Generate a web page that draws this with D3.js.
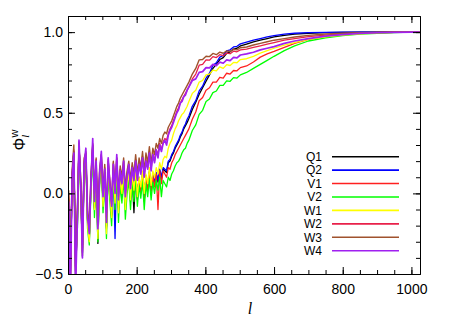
<!DOCTYPE html>
<html>
<head>
<meta charset="utf-8">
<script src="https://cdn.jsdelivr.net/npm/d3@7"></script>
<style>
  body { margin: 0; background: #fff; }
  svg { display: block; font-family: "Liberation Sans", Arial, sans-serif; }
</style>
</head>
<body>
<svg id="chart" width="452" height="323"></svg>
<script>
// multipole grid shared by all curves
var ells = [2, 7, 12, 17, 22, 27, 32, 37, 42, 47,
  52, 57, 62, 67, 72, 77, 82, 87, 92, 97,
  102, 107, 112, 117, 122, 127, 132, 137, 142, 147,
  152, 157, 162, 167, 172, 177, 182, 187, 192, 197,
  202, 207, 212, 217, 222, 227, 232, 237, 242, 247,
  252, 257, 262, 267, 272, 277, 282, 287, 292, 297,
  302, 307, 312, 317, 322, 327, 332, 337, 342, 347,
  352, 362, 372, 382, 392, 402, 412, 422, 432, 442, 452, 462, 472, 482, 492, 502,
  520, 540, 560, 580, 600, 630, 660, 700, 750, 800, 850, 900, 950, 1000, 1024];

var q1 = [-0.04, -0.5, 0.1, 0.25, -0.48, -0.22, 0.3, 0.04, -0.39, 0.17,
  0.24, -0.17, -0.29, 0.06, 0.29, -0.09, 0.17, -0.31, 0.09, 0.21,
  -0.06, 0.12, -0.21, 0.17, 0.01, -0.13, 0.14, -0.07, 0.19, -0.09,
  0.1, -0.01, 0.15, -0.07, 0.05, 0.12, -0.03, 0.11, -0.12, 0.13,
  -0.03, 0.09, 0.01, 0.12, -0.04, 0.1, 0.03, 0.13, 0.02, 0.11,
  0.05, 0.12, 0.07, 0.14, 0.09, 0.15, 0.14, 0.13, 0.19, 0.2,
  0.23, 0.25, 0.28, 0.3, 0.32, 0.35, 0.37, 0.4, 0.42, 0.44,
  0.465, 0.52, 0.565, 0.615, 0.655, 0.695, 0.735, 0.775, 0.8, 0.83, 0.842, 0.868, 0.878, 0.895, 0.9, 0.914,
  0.926, 0.94, 0.95, 0.96, 0.97, 0.98, 0.987, 0.993, 0.997, 0.999, 1.0, 1.0, 1.0, 1.0, 1.0];

var q2 = [-0.04, -0.52, 0.11, 0.26, -0.5, -0.2, 0.31, 0.05, -0.37, 0.18,
  0.25, -0.16, -0.27, 0.07, 0.3, -0.08, 0.18, -0.24, 0.1, 0.22,
  -0.05, 0.13, -0.2, 0.18, 0.02, -0.12, 0.15, -0.28, 0.2, -0.08,
  0.11, 0.0, 0.16, -0.06, 0.06, 0.13, -0.02, 0.12, 0.02, 0.14,
  -0.02, 0.1, 0.02, 0.13, -0.03, 0.11, 0.04, 0.14, 0.03, 0.12,
  0.06, 0.13, 0.08, 0.15, 0.1, 0.16, 0.15, 0.14, 0.2, 0.21,
  0.24, 0.26, 0.29, 0.31, 0.33, 0.36, 0.38, 0.41, 0.43, 0.46,
  0.48, 0.54, 0.575, 0.635, 0.665, 0.715, 0.745, 0.795, 0.81, 0.845, 0.855, 0.883, 0.89, 0.908, 0.912, 0.927,
  0.938, 0.95, 0.96, 0.97, 0.978, 0.987, 0.993, 0.997, 0.999, 1.0, 1.0, 1.0, 1.0, 1.0, 1.0];

var v1 = [-0.03, -0.48, 0.1, 0.24, -0.46, -0.18, 0.32, 0.04, -0.34, 0.17,
  0.23, -0.18, -0.26, 0.06, 0.28, -0.1, 0.16, -0.25, 0.1, 0.2,
  -0.06, 0.12, -0.22, 0.17, 0.0, -0.14, 0.15, -0.05, 0.18, -0.1,
  0.1, -0.02, 0.14, -0.08, 0.04, 0.12, -0.05, 0.11, 0.0, 0.13,
  -0.04, 0.09, 0.0, 0.12, -0.05, 0.1, 0.02, 0.13, 0.01, 0.11,
  0.04, 0.12, -0.1, 0.14, 0.06, 0.14, 0.12, 0.1, 0.16, 0.15,
  0.19, 0.21, 0.24, 0.26, 0.28, 0.3, 0.32, 0.34, 0.36, 0.38,
  0.4, 0.46, 0.505, 0.575, 0.595, 0.64, 0.655, 0.69, 0.69, 0.72, 0.715, 0.745, 0.74, 0.762, 0.76, 0.78,
  0.79, 0.815, 0.845, 0.865, 0.88, 0.905, 0.93, 0.955, 0.972, 0.985, 0.992, 0.996, 0.998, 1.0, 1.0];

var v2 = [-0.05, -0.45, 0.05, 0.2, -0.42, -0.25, 0.25, 0.0, -0.35, 0.12,
  0.2, -0.22, -0.32, 0.02, 0.25, -0.15, 0.12, -0.3, 0.05, 0.18,
  -0.12, 0.08, -0.28, 0.14, -0.05, -0.2, 0.1, -0.1, 0.15, -0.18,
  0.06, -0.06, 0.1, -0.16, 0.0, 0.08, -0.1, 0.07, -0.05, 0.1,
  -0.08, 0.05, -0.03, 0.08, -0.1, 0.06, -0.02, 0.09, -0.04, 0.07,
  0.0, 0.08, 0.02, 0.1, -0.02, 0.08, 0.06, 0.04, 0.1, 0.08,
  0.12, 0.14, 0.17, 0.19, 0.2, 0.22, 0.25, 0.27, 0.28, 0.31,
  0.33, 0.39, 0.425, 0.49, 0.515, 0.57, 0.585, 0.625, 0.635, 0.67, 0.67, 0.698, 0.695, 0.718, 0.715, 0.735,
  0.75, 0.775, 0.8, 0.825, 0.85, 0.885, 0.915, 0.945, 0.965, 0.978, 0.987, 0.993, 0.997, 1.0, 1.0];

var w1 = [-0.02, -0.52, 0.08, 0.22, -0.5, -0.22, 0.3, 0.02, -0.38, 0.15,
  0.24, -0.2, -0.3, 0.05, 0.3, -0.1, 0.17, -0.28, 0.08, 0.22,
  -0.08, 0.12, -0.25, 0.18, 0.0, -0.15, 0.14, -0.06, 0.2, -0.12,
  0.1, 0.0, 0.15, -0.1, 0.05, 0.13, -0.04, 0.12, 0.02, 0.15,
  -0.02, 0.1, 0.04, 0.14, 0.0, 0.12, 0.06, 0.16, 0.05, 0.14,
  0.1, 0.16, 0.12, 0.19, 0.15, 0.21, 0.23, 0.22, 0.28, 0.31,
  0.33, 0.37, 0.4, 0.42, 0.45, 0.47, 0.49, 0.5, 0.52, 0.54,
  0.57, 0.62, 0.64, 0.69, 0.7, 0.735, 0.74, 0.765, 0.76, 0.785, 0.775, 0.798, 0.793, 0.812, 0.81, 0.83,
  0.835, 0.85, 0.87, 0.885, 0.9, 0.92, 0.935, 0.955, 0.97, 0.982, 0.99, 0.995, 0.998, 1.0, 1.0];

var w2 = [0.0, -0.55, 0.12, 0.27, -0.5, -0.16, 0.3, 0.07, -0.36, 0.2,
  0.26, -0.13, -0.23, 0.1, 0.31, -0.03, 0.21, -0.2, 0.13, 0.24,
  0.0, 0.16, -0.15, 0.21, 0.06, -0.07, 0.19, 0.02, 0.22, -0.02,
  0.15, 0.07, 0.2, 0.0, 0.12, 0.18, 0.05, 0.17, 0.1, 0.21,
  0.09, 0.19, 0.13, 0.23, 0.11, 0.21, 0.16, 0.26, 0.15, 0.25,
  0.2, 0.27, 0.24, 0.31, 0.27, 0.32, 0.34, 0.33, 0.37, 0.4,
  0.42, 0.45, 0.48, 0.51, 0.53, 0.56, 0.58, 0.6, 0.62, 0.64,
  0.66, 0.71, 0.74, 0.795, 0.8, 0.828, 0.826, 0.848, 0.842, 0.86, 0.854, 0.87, 0.866, 0.882, 0.878, 0.89,
  0.895, 0.905, 0.915, 0.925, 0.935, 0.95, 0.96, 0.972, 0.982, 0.99, 0.995, 0.998, 0.999, 1.0, 1.0];

var w3 = [0.02, -0.5, 0.15, 0.3, -0.45, -0.12, 0.28, 0.1, -0.32, 0.22,
  0.25, -0.1, -0.2, 0.12, 0.3, 0.0, 0.22, -0.18, 0.15, 0.24,
  0.02, 0.18, -0.12, 0.2, 0.08, -0.05, 0.2, 0.04, 0.22, 0.0,
  0.17, 0.1, 0.22, 0.03, 0.14, 0.2, 0.08, 0.19, 0.12, 0.24,
  0.12, 0.22, 0.16, 0.26, 0.14, 0.25, 0.19, 0.29, 0.18, 0.28,
  0.24, 0.31, 0.28, 0.34, 0.31, 0.36, 0.38, 0.37, 0.41, 0.43,
  0.45, 0.48, 0.51, 0.54, 0.56, 0.59, 0.61, 0.63, 0.65, 0.67,
  0.69, 0.74, 0.775, 0.828, 0.83, 0.85, 0.848, 0.868, 0.86, 0.876, 0.869, 0.884, 0.88, 0.894, 0.89, 0.903,
  0.908, 0.92, 0.93, 0.94, 0.95, 0.96, 0.97, 0.98, 0.988, 0.993, 0.996, 0.998, 0.999, 1.0, 1.0];

var w4 = [-0.05, -0.62, 0.1, 0.25, -0.58, -0.2, 0.33, 0.05, -0.4, 0.18,
  0.28, -0.15, -0.25, 0.08, 0.34, -0.05, 0.2, -0.22, 0.12, 0.26,
  -0.02, 0.15, -0.18, 0.22, 0.05, -0.08, 0.18, 0.0, 0.24, -0.04,
  0.14, 0.06, 0.2, -0.02, 0.1, 0.18, 0.03, 0.16, 0.08, 0.2,
  0.08, 0.18, 0.12, 0.22, 0.1, 0.2, 0.15, 0.25, 0.14, 0.24,
  0.19, 0.27, 0.22, 0.3, 0.26, 0.31, 0.33, 0.3, 0.36, 0.39,
  0.41, 0.44, 0.47, 0.5, 0.52, 0.56, 0.57, 0.6, 0.61, 0.64,
  0.66, 0.7, 0.71, 0.75, 0.755, 0.78, 0.778, 0.8, 0.792, 0.814, 0.807, 0.828, 0.823, 0.843, 0.84, 0.858,
  0.865, 0.875, 0.89, 0.9, 0.91, 0.93, 0.945, 0.96, 0.975, 0.985, 0.992, 0.996, 0.998, 1.0, 1.0];

var names = ["Q1", "Q2", "V1", "V2", "W1", "W2", "W3", "W4"];
var colors = ["#000000", "#0000ff", "#ff2020", "#00ff00", "#ffff00", "#e8204a", "#a0522d", "#a020f0"];
var widths = [1.3, 1.3, 1.3, 1.3, 1.3, 1.3, 1.4, 1.7];
var series = [q1, q2, v1, v2, w1, w2, w3, w4];

var xTicks = [0, 200, 400, 600, 800, 1000];
var yTicks = [-0.5, 0.0, 0.5, 1.0];

var svg = d3.select("#chart");
var plotL = 68, plotR = 420, plotT = 16, plotB = 274;

var x = d3.scaleLinear().domain([0, 1025]).range([plotL, plotR]);
var y = d3.scaleLinear().domain([-0.5, 1.1]).range([plotB, plotT]);

var xMinor = d3.range(0, 1025, 50);
var yMinor = d3.range(-5, 11).map(function(d) { return d / 10; });

svg.append("clipPath").attr("id", "plotclip")
  .append("rect").attr("x", plotL).attr("y", plotT)
  .attr("width", plotR - plotL).attr("height", plotB - plotT);

var line = d3.line()
  .x(function(d, i) { return x(ells[i]); })
  .y(function(d) { return y(d); });

var plot = svg.append("g").attr("clip-path", "url(#plotclip)");
series.forEach(function(s, i) {
  plot.append("path")
    .attr("d", line(s))
    .attr("fill", "none")
    .attr("stroke", colors[i])
    .attr("stroke-width", widths[i])
    .attr("stroke-linejoin", "round");
});

// axes, ticks pointing inward on all four sides
function styleAxis(g) {
  g.selectAll("path").attr("stroke", "#000").attr("stroke-width", 1);
  g.selectAll("line").attr("stroke", "#000");
  g.selectAll("text").attr("fill", "#000").attr("font-size", 14)
    .attr("font-family", "Liberation Sans, Arial, sans-serif");
}

svg.append("g").attr("transform", "translate(0," + plotB + ")")
  .call(d3.axisBottom(x).tickValues(xMinor).tickSize(-4).tickSizeOuter(0).tickFormat(""))
  .call(styleAxis);
svg.append("g").attr("transform", "translate(0," + plotB + ")")
  .call(d3.axisBottom(x).tickValues(xTicks).tickSize(-7).tickSizeOuter(0).tickPadding(10).tickFormat(d3.format("d")))
  .call(styleAxis);
svg.append("g").attr("transform", "translate(0," + plotT + ")")
  .call(d3.axisTop(x).tickValues(xMinor).tickSize(-4).tickSizeOuter(0).tickFormat(""))
  .call(styleAxis);
svg.append("g").attr("transform", "translate(0," + plotT + ")")
  .call(d3.axisTop(x).tickValues(xTicks).tickSize(-7).tickSizeOuter(0).tickFormat(""))
  .call(styleAxis);

svg.append("g").attr("transform", "translate(" + plotL + ",0)")
  .call(d3.axisLeft(y).tickValues(yMinor).tickSize(-4).tickSizeOuter(0).tickFormat(""))
  .call(styleAxis);
svg.append("g").attr("transform", "translate(" + plotL + ",0)")
  .call(d3.axisLeft(y).tickValues(yTicks).tickSize(-7).tickSizeOuter(0).tickPadding(5).tickFormat(d3.format(".1f")))
  .call(styleAxis);
svg.append("g").attr("transform", "translate(" + plotR + ",0)")
  .call(d3.axisRight(y).tickValues(yMinor).tickSize(-4).tickSizeOuter(0).tickFormat(""))
  .call(styleAxis);
svg.append("g").attr("transform", "translate(" + plotR + ",0)")
  .call(d3.axisRight(y).tickValues(yTicks).tickSize(-7).tickSizeOuter(0).tickFormat(""))
  .call(styleAxis);

// minus sign like the original
svg.selectAll("text").each(function() {
  var t = d3.select(this);
  t.text(t.text().replace("-", "\u2212"));
});

// axis titles
svg.append("text")
  .attr("x", 250).attr("y", 314)
  .attr("text-anchor", "middle")
  .attr("font-size", 16).attr("font-style", "italic")
  .attr("font-family", "Liberation Serif, serif")
  .text("l");

var ylab = svg.append("text")
  .attr("transform", "translate(25,140) rotate(-90)")
  .attr("text-anchor", "middle")
  .attr("font-size", 16);
ylab.append("tspan").text("\u03a6");
ylab.append("tspan").attr("font-size", 11).attr("font-style", "italic")
  .attr("font-family", "Liberation Serif, serif").attr("dy", 4).text("l");
ylab.append("tspan").attr("font-size", 11).attr("dx", -3).attr("dy", -11).text("w");

// legend
var leg = svg.append("g");
names.forEach(function(n, i) {
  var yy = 156.7 + i * 13.43;
  leg.append("text")
    .attr("x", 322).attr("y", yy + 4.3)
    .attr("text-anchor", "end")
    .attr("font-size", 12)
    .text(n);
  leg.append("line")
    .attr("x1", 332).attr("x2", 399)
    .attr("y1", yy).attr("y2", yy)
    .attr("stroke", colors[i])
    .attr("stroke-width", 1.6);
});
</script>
</body>
</html>
